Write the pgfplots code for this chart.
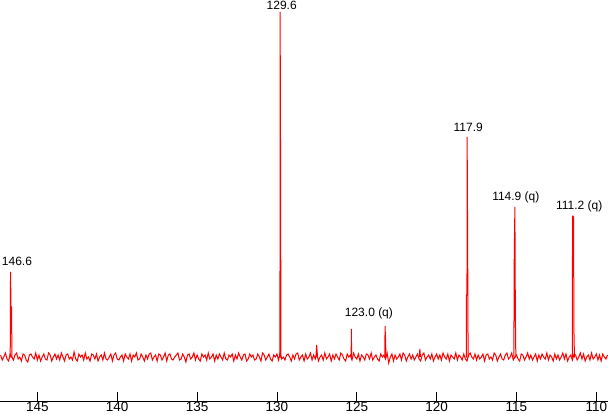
\documentclass[border=0pt]{standalone}
\usepackage{fontspec}
\setmainfont{Liberation Sans}
\usepackage{pgfplots}
\pgfplotsset{compat=1.18}
\begin{document}
\begin{tikzpicture}
\begin{axis}[
  scale only axis, width=608pt, height=401pt,
  xmin=109.27, xmax=147.34, x dir=reverse,
  ymin=-44, ymax=357,
  axis x line=bottom, axis y line=none,
  x axis line style={-, line width=1pt},
  xtick={110,115,...,145},
  tick align=inside, major tick length=9pt,
  tick style={black, line width=0.8pt},
  xticklabel style={font=\fontsize{13.5}{15}\selectfont, inner sep=0pt, yshift=-1pt},
  /pgf/number format/assume math mode=true,
  clip=false,
]
\addplot[red, line width=1pt] coordinates {
(147.3,2) (147.2,-3) (147.1,0) (147.0,4) (146.9,-2) (146.8,-4) (146.7,3) (146.6,0) (146.5,-3) (146.4,2) (146.3,4) (146.2,-2) (146.1,0) (146.0,-4) (145.9,3) (145.8,2) (145.7,-3) (145.6,-5) (145.5,2) (145.4,3)
(145.3,0) (145.2,-2) (145.1,4) (145.0,-3) (144.9,2) (144.8,-4) (144.7,0) (144.6,3) (144.5,-2) (144.4,-3) (144.3,4) (144.2,2) (144.1,-4) (144.0,0) (143.9,3) (143.8,-2) (143.7,2) (143.6,-3) (143.5,4) (143.4,0)
(143.3,-4) (143.2,2) (143.1,3) (143.0,-2) (142.9,0) (142.8,-3) (142.7,5) (142.6,-2) (142.5,-4) (142.4,3) (142.3,0) (142.2,2) (142.1,-3) (142.0,4) (141.9,-2) (141.8,0) (141.7,-4) (141.6,3) (141.5,2) (141.4,-2)
(141.3,3) (141.2,-4) (141.1,0) (141.0,2) (140.9,-3) (140.8,4) (140.7,-2) (140.6,-3) (140.5,0) (140.4,3) (140.3,-4) (140.2,2) (140.1,4) (140.0,-2) (139.9,-3) (139.8,0) (139.7,2) (139.6,-4) (139.5,3) (139.4,0)
(139.3,-2) (139.2,3) (139.1,-4) (139.0,2) (138.9,0) (138.8,4) (138.7,-3) (138.6,-2) (138.5,3) (138.4,0) (138.3,-4) (138.2,2) (138.1,-2) (138.0,3) (137.9,4) (137.8,-3) (137.7,0) (137.6,2) (137.5,-4) (137.4,3)
(137.3,2) (137.2,-3) (137.1,0) (137.0,4) (136.9,-4) (136.8,2) (136.7,3) (136.6,-2) (136.5,-3) (136.4,0) (136.3,2) (136.2,4) (136.1,-3) (136.0,-2) (135.9,3) (135.8,0) (135.7,-5) (135.6,2) (135.5,3) (135.4,-2)
(135.3,0) (135.2,4) (135.1,-3) (135.0,2) (134.9,-2) (134.8,-4) (134.7,3) (134.6,0) (134.5,2) (134.4,-3) (134.3,4) (134.2,-2) (134.1,0) (134.0,3) (133.9,-4) (133.8,2) (133.7,-2) (133.6,3) (133.5,0) (133.4,-3)
(133.3,4) (133.2,-2) (133.1,-3) (133.0,2) (132.9,0) (132.8,3) (132.7,-4) (132.6,2) (132.5,-2) (132.4,4) (132.3,0) (132.2,-3) (132.1,2) (132.0,3) (131.9,-4) (131.8,-2) (131.7,3) (131.6,0) (131.5,2) (131.4,-3)
(131.3,-2) (131.2,3) (131.1,0) (131.0,-4) (130.9,4) (130.8,2) (130.7,-3) (130.6,0) (130.5,3) (130.4,-2) (130.3,-4) (130.2,2) (130.1,0) (130.0,3) (129.9,-3) (129.8,4) (129.7,-2) (129.6,0) (129.5,-3) (129.4,2)
(129.3,3) (129.2,0) (129.1,-4) (129.0,2) (128.9,-2) (128.8,3) (128.7,4) (128.6,-3) (128.5,0) (128.4,2) (128.3,-4) (128.2,3) (128.1,-2) (128.0,0) (127.9,4) (127.8,-3) (127.7,2) (127.6,-2) (127.5,3) (127.4,-4)
(127.3,0) (127.2,2) (127.1,-3) (127.0,4) (126.9,-2) (126.8,0) (126.7,3) (126.6,-4) (126.5,2) (126.4,-2) (126.3,3) (126.2,0) (126.1,-3) (126.0,4) (125.9,2) (125.8,-2) (125.7,-4) (125.6,3) (125.5,0) (125.4,2)
(125.3,-3) (125.2,4) (125.1,0) (125.0,-2) (124.9,3) (124.8,-4) (124.7,2) (124.6,0) (124.5,-3) (124.4,3) (124.3,2) (124.2,-2) (124.1,4) (124.0,-3) (123.9,0) (123.8,2) (123.7,-2) (123.6,-4) (123.5,3) (123.4,0)
(123.3,2) (123.2,-2) (123.1,4) (123.0,-6) (122.9,0) (122.8,3) (122.7,-4) (122.6,2) (122.5,-2) (122.4,0) (122.3,3) (122.2,-3) (122.1,4) (122.0,2) (121.9,-4) (121.8,0) (121.7,3) (121.6,-2) (121.5,2) (121.4,-3)
(121.3,0) (121.2,3) (121.1,-2) (121.0,-4) (120.9,2) (120.8,4) (120.7,-3) (120.6,0) (120.5,2) (120.4,-2) (120.3,3) (120.2,-4) (120.1,0) (120.0,3) (119.9,-2) (119.8,2) (119.7,-3) (119.6,4) (119.5,0) (119.4,-2)
(119.3,3) (119.2,-4) (119.1,2) (119.0,0) (118.9,-2) (118.8,4) (118.7,-3) (118.6,2) (118.5,0) (118.4,-3) (118.3,3) (118.2,-2) (118.1,-4) (118.0,2) (117.9,4) (117.8,0) (117.7,-2) (117.6,3) (117.5,-3) (117.4,2)
(117.3,-2) (117.2,0) (117.1,3) (117.0,-4) (116.9,2) (116.8,3) (116.7,-2) (116.6,0) (116.5,-3) (116.4,4) (116.3,2) (116.2,-4) (116.1,0) (116.0,3) (115.9,-2) (115.8,-3) (115.7,2) (115.6,4) (115.5,-2) (115.4,0)
(115.3,4) (115.2,-3) (115.1,0) (115.0,2) (114.9,-2) (114.8,-4) (114.7,3) (114.6,2) (114.5,-3) (114.4,0) (114.3,4) (114.2,-2) (114.1,2) (114.0,-3) (113.9,0) (113.8,3) (113.7,-4) (113.6,2) (113.5,-2) (113.4,3)
(113.3,0) (113.2,-2) (113.1,4) (113.0,-3) (112.9,2) (112.8,0) (112.7,-4) (112.6,3) (112.5,-2) (112.4,2) (112.3,-3) (112.2,0) (112.1,4) (112.0,-2) (111.9,3) (111.8,-4) (111.7,0) (111.6,2) (111.5,-3) (111.4,3)
(111.3,2) (111.2,-3) (111.1,0) (111.0,4) (110.9,-2) (110.8,3) (110.7,-4) (110.6,0) (110.5,2) (110.4,-3) (110.3,4) (110.2,-2) (110.1,0) (110.0,3) (109.9,-3) (109.8,2) (109.7,-4) (109.6,3) (109.5,0) (109.4,-2)
(109.3,2)
};
% peaks
\addplot[red, line width=1pt] coordinates {(146.74,0) (146.70,0) (146.68,85) (146.65,50) (146.62,50) (146.59,0) (146.55,0)};
\addplot[red, line width=1pt] coordinates {(129.86,0) (129.81,0) (129.80,345) (129.77,185) (129.75,0) (129.72,0)};
\addplot[red, line width=1pt] coordinates {(127.56,0) (127.51,12) (127.46,0)};
\addplot[red, line width=1pt] coordinates {(125.39,0) (125.35,0) (125.34,28) (125.32,0) (125.29,0)};
\addplot[red, line width=1pt] coordinates {(123.28,0) (123.24,0) (123.23,31) (123.20,17) (123.17,0) (123.14,0)};
\addplot[red, line width=1pt] coordinates {(121.09,0) (121.05,8) (121.01,0)};
\addplot[red, line width=1pt] coordinates {(118.18,0) (118.14,0) (118.13,62) (118.10,62) (118.09,220) (118.06,122) (118.03,0) (118.00,0)};
\addplot[red, line width=1pt] coordinates {(115.20,0) (115.16,0) (115.15,85) (115.10,150) (115.07,40) (115.04,0) (115.00,0)};
\addplot[red, line width=1pt] coordinates {(111.55,0) (111.50,0) (111.49,141) (111.45,141) (111.43,139) (111.40,24) (111.37,0) (111.33,0)};
% labels
\begin{scope}[every node/.style={font=\fontsize{12}{14}\selectfont, inner sep=0pt}]
\node at (axis cs:146.28,96) {146.6};
\node at (axis cs:129.70,352) {129.6};
\node at (axis cs:124.24,44) {123.0 (q)};
\node at (axis cs:118.02,230) {117.9};
\node at (axis cs:115.04,160) {114.9 (q)};
\node at (axis cs:111.07,151) {111.2 (q)};
\end{scope}
\end{axis}
\pgfresetboundingbox
\useasboundingbox (0,-12.5pt) rectangle (608pt,401pt);
\end{tikzpicture}
\end{document}
